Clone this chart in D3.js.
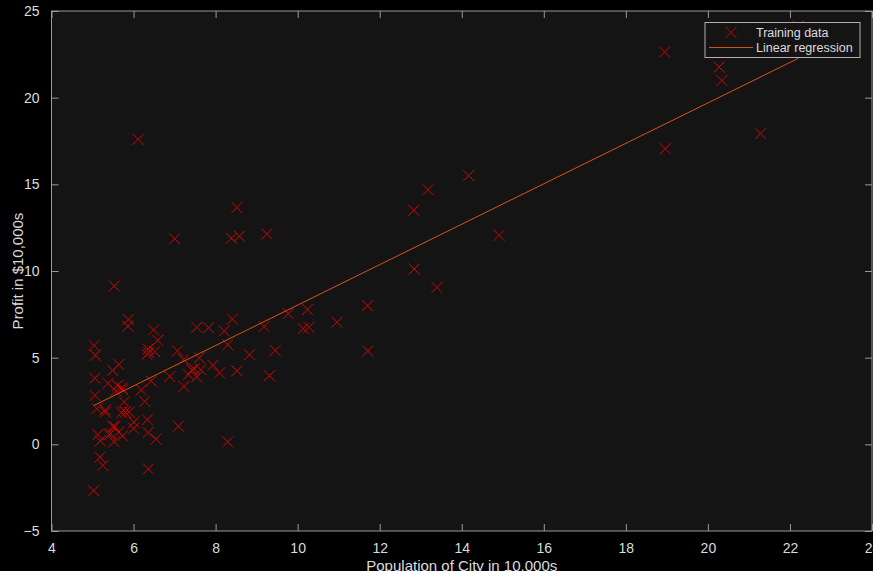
<!DOCTYPE html>
<html>
<head>
<meta charset="utf-8">
<script src="https://cdn.jsdelivr.net/npm/d3@7"></script>
<style>
  html, body { margin: 0; padding: 0; background: #000; }
  svg { display: block; font-family: "Liberation Sans", Arial, sans-serif; }
</style>
</head>
<body>
<div id="chart"></div>
<script>
// population (10,000s)
const population = [6.1101, 5.5277, 8.5186, 7.0032, 5.8598, 8.3829, 7.4764, 8.5781, 6.4862, 5.0546,
  5.7107, 14.164, 5.734, 8.4084, 5.6407, 5.3794, 6.3654, 5.1301, 6.4296, 7.0708,
  6.1891, 20.27, 5.4901, 6.3261, 5.5649, 18.945, 12.828, 10.957, 13.176, 22.203,
  5.2524, 6.5894, 9.2482, 5.8918, 8.2111, 7.9334, 8.0959, 5.6063, 12.836, 6.3534,
  5.4069, 6.8825, 11.708, 5.7737, 7.8247, 7.0931, 5.0702, 5.8014, 11.7, 5.5416,
  7.5402, 5.3077, 7.4239, 7.6031, 6.3328, 6.3589, 6.2742, 5.6397, 9.3102, 9.4536,
  8.8254, 5.1793, 21.279, 14.908, 18.959, 7.2182, 8.2951, 10.236, 5.4994, 20.341,
  10.136, 7.3345, 6.0062, 7.2259, 5.0269, 6.5479, 7.5386, 5.0365, 10.274, 5.1077,
  5.7292, 5.1884, 6.3557, 9.7687, 6.5159, 8.5172, 9.1802, 6.002, 5.5204, 5.0594,
  5.7077, 7.6366, 5.8707, 5.3054, 8.2934, 13.394, 5.4369];
// profit ($10,000s)
const profit = [17.592, 9.1302, 13.662, 11.854, 6.8233, 11.886, 4.3483, 12, 6.5987, 3.8166,
  3.2522, 15.505, 3.1551, 7.2258, 0.71618, 3.5129, 5.3048, 0.56077, 3.6518, 5.3893,
  3.1386, 21.767, 4.263, 5.1875, 3.0825, 22.638, 13.501, 7.0467, 14.692, 24.147,
  -1.22, 5.9966, 12.134, 1.8495, 6.5426, 4.5623, 4.1164, 3.3928, 10.117, 5.4974,
  0.55657, 3.9115, 5.3854, 2.4406, 6.7318, 1.0463, 5.1337, 1.844, 8.0043, 1.0179,
  6.7504, 1.8396, 4.2885, 4.9981, 1.4233, -1.4211, 2.4756, 4.6042, 3.9624, 5.4141,
  5.1694, -0.74279, 17.929, 12.054, 17.054, 4.8852, 5.7442, 7.7754, 1.0173, 20.992,
  6.6799, 4.0259, 1.2784, 3.3411, -2.6807, 0.29678, 3.8845, 5.7014, 6.7526, 2.0576,
  0.47953, 0.20421, 0.67861, 7.5435, 5.3436, 4.2415, 6.7981, 0.92695, 0.152, 2.8214,
  1.8451, 4.2959, 7.2029, 1.9869, 0.14454, 9.0551, 0.61705];
// fitted line end points
const fitX = [5.0269, 22.203];
const fitY = [2.233, 22.267];
const xTicks = [4, 6, 8, 10, 12, 14, 16, 18, 20, 22, 24];
const yTicks = [-5, 0, 5, 10, 15, 20, 25];
const legendLabels = ["Training data", "Linear regression"];

const W = 873, H = 571;
const margin = {top: 11, right: 1, bottom: 40, left: 51.5};
const markerColor = "#d40000", lineColor = "#d95319", axisColor = "#9a9a9a", textColor = "#dcdcdc";

const svg = d3.select("#chart").append("svg").attr("width", W).attr("height", H);
svg.append("rect").attr("width", W).attr("height", H).attr("fill", "#000");

const x = d3.scaleLinear().domain([4, 24]).range([margin.left, W - margin.right]);
const y = d3.scaleLinear().domain([-5, 25]).range([H - margin.bottom, margin.top]);

svg.append("rect")
  .attr("x", x(4)).attr("y", y(25))
  .attr("width", x(24) - x(4)).attr("height", y(-5) - y(25))
  .attr("fill", "#141414");

// axes (ticks inward, boxed)
function styleAxis(g) {
  g.select(".domain").remove();
  g.selectAll(".tick line").attr("stroke", axisColor);
  g.selectAll(".tick text").attr("fill", textColor).attr("font-size", 14);
}
svg.append("g").attr("transform", `translate(0,${y(-5)})`)
  .call(d3.axisBottom(x).tickValues(xTicks).tickSizeInner(-7).tickPadding(12))
  .call(styleAxis);
svg.append("g").attr("transform", `translate(0,${y(25)})`)
  .call(d3.axisTop(x).tickValues(xTicks).tickSizeInner(-7).tickFormat(""))
  .call(styleAxis);
svg.append("g").attr("transform", `translate(${x(4)},0)`)
  .call(d3.axisLeft(y).tickValues(yTicks).tickSizeInner(-7).tickPadding(12))
  .call(styleAxis);
svg.append("g").attr("transform", `translate(${x(24)},0)`)
  .call(d3.axisRight(y).tickValues(yTicks).tickSizeInner(-7).tickFormat(""))
  .call(styleAxis);

svg.append("rect")
  .attr("x", x(4)).attr("y", y(25))
  .attr("width", x(24) - x(4)).attr("height", y(-5) - y(25))
  .attr("fill", "none").attr("stroke", axisColor).attr("stroke-width", 1);

// markers
const s = 5.5;
const cross = `M${-s},${-s}L${s},${s}M${-s},${s}L${s},${-s}`;
svg.append("g").selectAll("path")
  .data(population.map((p, i) => [p, profit[i]]))
  .join("path")
  .attr("transform", d => `translate(${x(d[0])},${y(d[1])})`)
  .attr("d", cross)
  .attr("stroke", markerColor).attr("stroke-width", 1).attr("fill", "none");

// regression line
svg.append("path")
  .datum(fitX.map((v, i) => [v, fitY[i]]))
  .attr("d", d3.line().x(d => x(d[0])).y(d => y(d[1])))
  .attr("stroke", lineColor).attr("stroke-width", 1).attr("fill", "none");

// labels
svg.append("text")
  .attr("x", (x(4) + x(24)) / 2).attr("y", 571)
  .attr("text-anchor", "middle").attr("fill", textColor).attr("font-size", 15)
  .text("Population of City in 10,000s");
svg.append("text")
  .attr("transform", `translate(23,${(y(25) + y(-5)) / 2}) rotate(-90)`)
  .attr("text-anchor", "middle").attr("fill", textColor).attr("font-size", 15)
  .text("Profit in $10,000s");

// legend
const lg = svg.append("g").attr("transform", "translate(705,22.5)");
lg.append("rect").attr("width", 155).attr("height", 35)
  .attr("fill", "#141414").attr("stroke", "#b0b0b0").attr("stroke-width", 1);
lg.append("path").attr("transform", "translate(26,10)").attr("d", cross)
  .attr("stroke", markerColor).attr("fill", "none");
lg.append("line").attr("x1", 4).attr("x2", 48).attr("y1", 25).attr("y2", 25)
  .attr("stroke", lineColor);
lg.selectAll("text.lab").data(legendLabels).join("text")
  .attr("class", "lab")
  .attr("x", 51).attr("y", (d, i) => 14.5 + i * 15)
  .attr("fill", textColor).attr("font-size", 12.5)
  .text(d => d);
</script>
</body>
</html>
